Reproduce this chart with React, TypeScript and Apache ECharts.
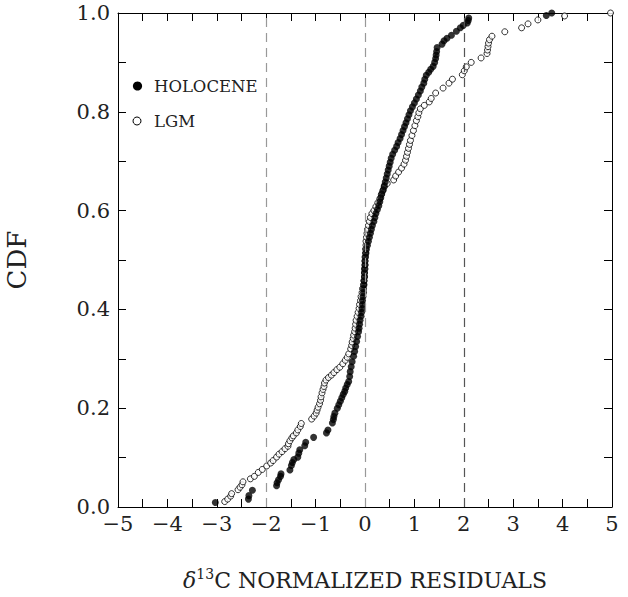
import React, { useEffect, useRef } from "react";
import * as echarts from "echarts";

const xTicks = [-5, -4, -3, -2, -1, 0, 1, 2, 3, 4, 5];
const yTicks = [0, 0.2, 0.4, 0.6, 0.8, 1.0];
const refLines = [-2, 0, 2];
const seriesNames = ["HOLOCENE", "LGM"];

const holocene: [number, number][] = [
  [-3.03, 0.009], [-2.36, 0.016], [-2.35, 0.023], [-2.28, 0.034],
  [-1.79, 0.043], [-1.78, 0.049], [-1.75, 0.055], [-1.71, 0.062], [-1.70, 0.067],
  [-1.52, 0.075], [-1.49, 0.084], [-1.47, 0.090], [-1.44, 0.096],
  [-1.36, 0.101], [-1.34, 0.109], [-1.32, 0.116],
  [-1.22, 0.124], [-1.20, 0.131], [-1.04, 0.141],
  [-0.78, 0.150], [-0.75, 0.156],
  [-0.66, 0.170], [-0.64, 0.177], [-0.63, 0.183], [-0.61, 0.190],
  [-0.56, 0.200], [-0.53, 0.207], [-0.50, 0.214], [-0.47, 0.221], [-0.44, 0.228],
  [-0.41, 0.234], [-0.39, 0.241], [-0.36, 0.248], [-0.33, 0.254],
  [-0.31, 0.264], [-0.30, 0.274], [-0.28, 0.284], [-0.26, 0.294], [-0.23, 0.305],
  [-0.21, 0.315], [-0.19, 0.325], [-0.17, 0.335], [-0.15, 0.345], [-0.13, 0.355],
  [-0.12, 0.362], [-0.11, 0.370], [-0.10, 0.378], [-0.08, 0.386], [-0.07, 0.394],
  [-0.06, 0.402], [-0.05, 0.410], [-0.05, 0.418], [-0.04, 0.426], [-0.03, 0.434],
  [-0.03, 0.442], [-0.02, 0.450], [-0.02, 0.458], [-0.01, 0.466], [-0.01, 0.474],
  [-0.01, 0.482], [0.0, 0.490], [0.0, 0.498], [0.01, 0.506], [0.02, 0.514],
  [0.03, 0.522], [0.05, 0.530], [0.07, 0.538], [0.09, 0.546], [0.11, 0.554],
  [0.13, 0.562], [0.15, 0.570], [0.18, 0.578], [0.20, 0.586], [0.22, 0.594],
  [0.25, 0.602], [0.28, 0.610], [0.30, 0.618], [0.32, 0.626], [0.34, 0.634],
  [0.37, 0.642], [0.39, 0.650], [0.41, 0.658], [0.43, 0.666], [0.45, 0.674],
  [0.47, 0.682], [0.49, 0.690], [0.51, 0.698], [0.53, 0.706], [0.56, 0.714],
  [0.60, 0.722], [0.64, 0.730], [0.67, 0.738], [0.71, 0.746], [0.74, 0.754],
  [0.77, 0.762], [0.80, 0.770], [0.83, 0.778], [0.86, 0.786], [0.89, 0.794],
  [0.92, 0.802], [0.96, 0.810], [1.00, 0.818], [1.04, 0.826], [1.08, 0.834],
  [1.12, 0.842], [1.15, 0.850], [1.19, 0.858], [1.21, 0.866], [1.24, 0.874],
  [1.29, 0.880], [1.33, 0.886], [1.38, 0.892], [1.41, 0.900], [1.43, 0.908],
  [1.44, 0.915], [1.45, 0.922], [1.46, 0.930],
  [1.56, 0.937], [1.60, 0.944], [1.66, 0.949], [1.75, 0.955], [1.85, 0.963],
  [1.93, 0.970], [1.99, 0.975], [2.07, 0.980], [2.09, 0.985], [2.10, 0.990],
  [3.67, 0.995], [3.78, 1.0],
];

const lgm: [number, number][] = [
  [-2.84, 0.011], [-2.78, 0.016], [-2.72, 0.022], [-2.70, 0.027],
  [-2.57, 0.035], [-2.53, 0.040], [-2.49, 0.045], [-2.47, 0.051],
  [-2.32, 0.057], [-2.24, 0.062], [-2.16, 0.070], [-2.08, 0.076], [-1.99, 0.083],
  [-1.91, 0.089], [-1.86, 0.094], [-1.79, 0.101], [-1.74, 0.107], [-1.68, 0.112],
  [-1.62, 0.118], [-1.56, 0.123], [-1.55, 0.128], [-1.52, 0.134], [-1.48, 0.140],
  [-1.45, 0.144], [-1.39, 0.150], [-1.36, 0.156], [-1.31, 0.163], [-1.29, 0.169],
  [-1.08, 0.178], [-1.03, 0.184], [-0.99, 0.190], [-0.97, 0.196], [-0.95, 0.202],
  [-0.92, 0.209], [-0.90, 0.216], [-0.89, 0.223], [-0.87, 0.231], [-0.85, 0.238],
  [-0.83, 0.244], [-0.82, 0.251], [-0.79, 0.257], [-0.74, 0.262], [-0.68, 0.267],
  [-0.63, 0.272], [-0.57, 0.278], [-0.51, 0.283], [-0.45, 0.290], [-0.40, 0.297],
  [-0.36, 0.303], [-0.33, 0.310], [-0.29, 0.320], [-0.27, 0.327], [-0.26, 0.334],
  [-0.24, 0.341], [-0.23, 0.348], [-0.21, 0.355], [-0.20, 0.362], [-0.19, 0.370],
  [-0.18, 0.378], [-0.16, 0.386], [-0.14, 0.394], [-0.12, 0.402], [-0.11, 0.410],
  [-0.09, 0.418], [-0.08, 0.426], [-0.06, 0.434], [-0.05, 0.442], [-0.03, 0.450],
  [-0.02, 0.458], [-0.01, 0.466], [-0.01, 0.474], [0.0, 0.482], [0.0, 0.490],
  [0.0, 0.498], [0.0, 0.506], [0.01, 0.514], [0.01, 0.522], [0.02, 0.530],
  [0.02, 0.538], [0.03, 0.546], [0.04, 0.554], [0.05, 0.562], [0.07, 0.570],
  [0.09, 0.578], [0.11, 0.586], [0.14, 0.594], [0.18, 0.600],
  [0.22, 0.608], [0.26, 0.616], [0.30, 0.624], [0.33, 0.632], [0.36, 0.640],
  [0.39, 0.648], [0.45, 0.655], [0.58, 0.662], [0.62, 0.670], [0.68, 0.678],
  [0.74, 0.686], [0.79, 0.694], [0.82, 0.702], [0.84, 0.710], [0.86, 0.718],
  [0.88, 0.726], [0.90, 0.734], [0.92, 0.742], [0.95, 0.752], [0.98, 0.762],
  [1.01, 0.772], [1.04, 0.782], [1.07, 0.790], [1.09, 0.798], [1.12, 0.806],
  [1.20, 0.813], [1.30, 0.820], [1.34, 0.827], [1.43, 0.838], [1.58, 0.848],
  [1.70, 0.858], [1.77, 0.866], [1.97, 0.875], [2.01, 0.883], [2.05, 0.891],
  [2.15, 0.900], [2.35, 0.909], [2.47, 0.918], [2.48, 0.925], [2.49, 0.932],
  [2.50, 0.939], [2.52, 0.946], [2.57, 0.953], [2.83, 0.962], [3.17, 0.970],
  [3.30, 0.978], [3.50, 0.986], [4.04, 0.994], [4.97, 1.0],
];

const FONT = "DejaVu Serif";

function fmtX(v: number) {
  return v < 0 ? "\u2212" + Math.abs(v) : String(v);
}

export default function App() {
  const ref = useRef<HTMLDivElement>(null);
  useEffect(() => {
    if (!ref.current) return;
    const chart = echarts.init(ref.current, null, { renderer: "svg" });
    const tickCommon = {
      axisLine: { show: true, onZero: false, lineStyle: { color: "#000", width: 1 } },
      axisTick: { show: true, inside: true, length: 8, lineStyle: { color: "#000" } },
      minorTick: { show: true, splitNumber: 2, length: 8, lineStyle: { color: "#000" } },
      splitLine: { show: false },
    };
    const grid = {
      left: 118,
      top: 13,
      width: 494,
      height: 494,
      containLabel: false,
      outerBoundsMode: "none",
    };
    chart.setOption({
      animation: false,
      backgroundColor: "#fff",
      grid,
      xAxis: [
        {
          type: "value",
          min: xTicks[0],
          max: xTicks[xTicks.length - 1],
          interval: 1,
          position: "bottom",
          ...tickCommon,
          axisLabel: {
            show: true,
            formatter: (v: number) => fmtX(v),
            fontFamily: FONT,
            fontSize: 21,
            color: "#222",
            margin: 6,
          },
          name: "{d|\u03b4}{s|13}{n|C NORMALIZED RESIDUALS}",
          nameLocation: "middle",
          nameGap: 60,
          nameTextStyle: {
            rich: {
              d: { fontFamily: FONT, fontSize: 22, fontStyle: "italic", color: "#222", verticalAlign: "bottom" },
              s: { fontFamily: FONT, fontSize: 14, color: "#222", verticalAlign: "top", padding: [0, 0, 10, 0] },
              n: { fontFamily: FONT, fontSize: 22, color: "#222", verticalAlign: "bottom" },
            },
          },
        },
        {
          type: "value",
          min: xTicks[0],
          max: xTicks[xTicks.length - 1],
          interval: 1,
          position: "top",
          ...tickCommon,
          axisLabel: { show: false },
        },
      ],
      yAxis: [
        {
          type: "value",
          min: yTicks[0],
          max: yTicks[yTicks.length - 1],
          interval: 0.2,
          position: "left",
          ...tickCommon,
          axisLabel: {
            show: true,
            formatter: (v: number) => v.toFixed(1),
            fontFamily: FONT,
            fontSize: 21,
            color: "#222",
            margin: 8,
          },
          name: "CDF",
          nameLocation: "middle",
          nameGap: 88,
          nameTextStyle: { fontFamily: FONT, fontSize: 26, color: "#222" },
        },
        {
          type: "value",
          min: yTicks[0],
          max: yTicks[yTicks.length - 1],
          interval: 0.2,
          position: "right",
          ...tickCommon,
          axisLabel: { show: false },
        },
      ],
      series: [
        {
          type: "scatter",
          data: [],
          z: 1,
          markLine: {
            silent: true,
            symbol: "none",
            label: { show: false },
            data: refLines.map((x) => ({
              xAxis: x,
              lineStyle: {
                color: x === 2 ? "#555" : "#999",
                type: [9, 6],
                width: 1.2,
              },
            })),
          },
        },
        {
          name: seriesNames[1],
          type: "scatter",
          data: lgm,
          symbol: "circle",
          symbolSize: 6,
          z: 2,
          itemStyle: { color: "#fff", borderColor: "#000", borderWidth: 1 },
        },
        {
          name: seriesNames[0],
          type: "scatter",
          data: holocene,
          symbol: "circle",
          symbolSize: 7,
          z: 3,
          itemStyle: { color: "#000" },
        },
      ],
      graphic: [
        { type: "circle", shape: { cx: 137.5, cy: 86, r: 4.6 }, style: { fill: "#000" } },
        {
          type: "text",
          x: 154,
          y: 86,
          style: { text: seriesNames[0], fontFamily: FONT, fontSize: 16.5, fill: "#222", verticalAlign: "middle" },
        },
        { type: "circle", shape: { cx: 137, cy: 121, r: 4 }, style: { fill: "#fff", stroke: "#000", lineWidth: 1 } },
        {
          type: "text",
          x: 154,
          y: 121,
          style: { text: seriesNames[1], fontFamily: FONT, fontSize: 16.5, fill: "#222", verticalAlign: "middle" },
        },
      ],
    });
    return () => chart.dispose();
  }, []);
  return (
    <div
      ref={ref}
      style={{ position: "fixed", left: 0, top: 0, width: 628, height: 597, background: "#fff" }}
    />
  );
}
